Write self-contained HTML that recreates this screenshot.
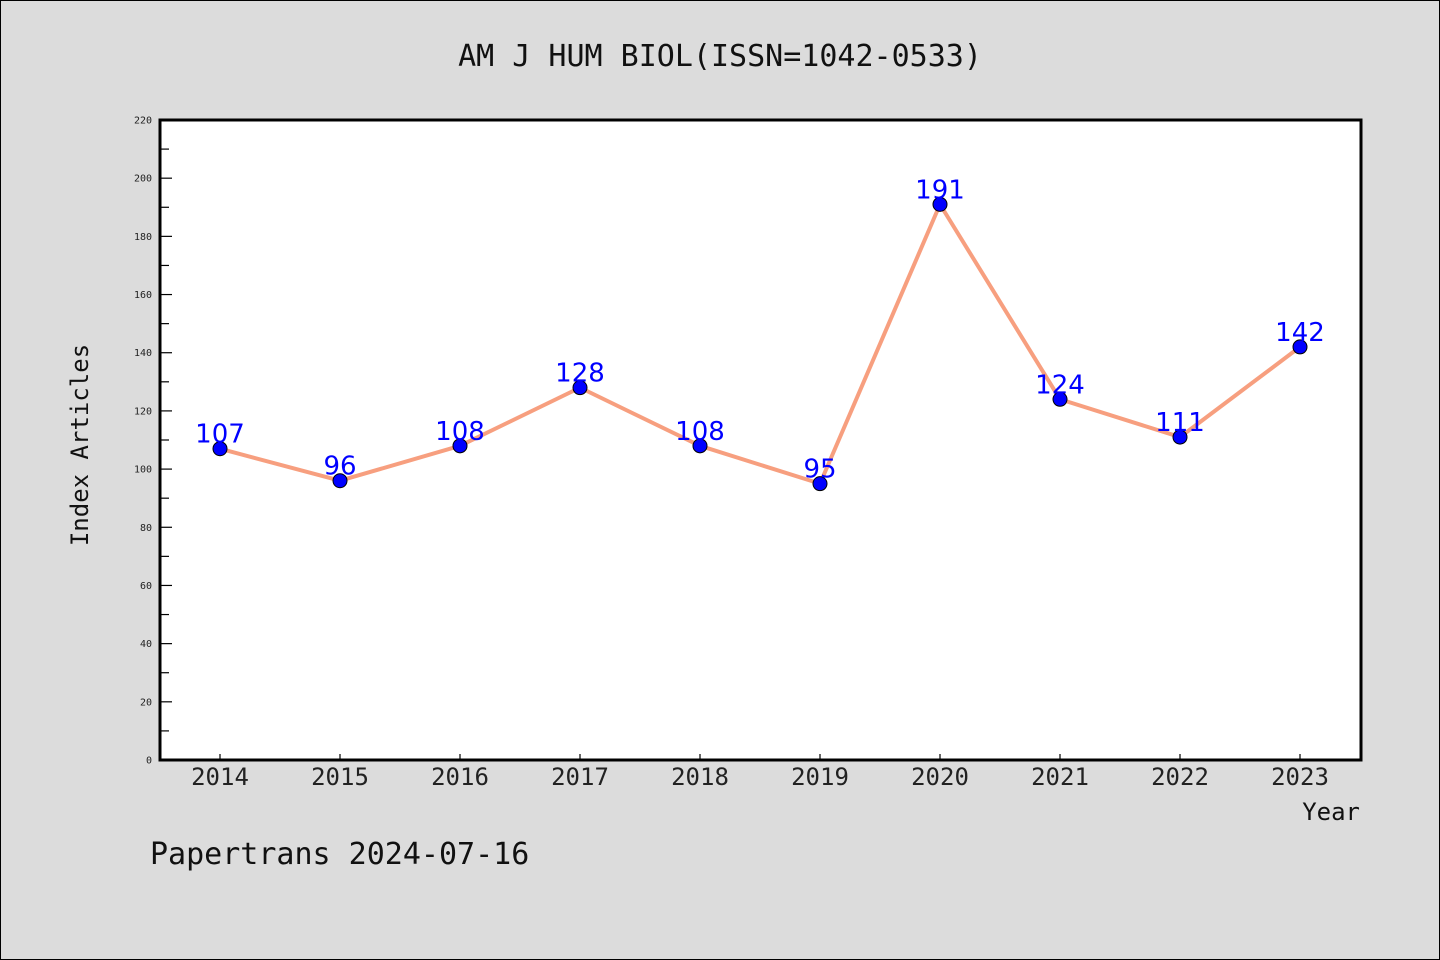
<!DOCTYPE html>
<html><head><meta charset="utf-8"><style>
html,body{margin:0;padding:0;background:#dcdcdc}
svg{display:block}
text{font-family:"DejaVu Sans Mono","Liberation Mono",monospace}
</style></head><body>
<svg id="chart" width="1440" height="960" xmlns="http://www.w3.org/2000/svg">
<rect x="0.5" y="0.5" width="1439" height="959" fill="#dcdcdc" stroke="#000" stroke-width="1"/>
<text x="720" y="66" font-size="30" text-anchor="middle" fill="#111">AM J HUM BIOL(ISSN=1042-0533)</text>
<rect x="160" y="120" width="1201" height="640" fill="#fff"/>
<g id="yaxis"></g>
<g id="xaxis"></g>
<g id="series"></g>
<rect x="160" y="120" width="1201" height="640" fill="none" stroke="#000" stroke-width="3"/>
<text transform="translate(88,445) rotate(-90)" font-size="24" text-anchor="middle" fill="#111">Index Articles</text>
<text x="1360" y="820" font-size="24" text-anchor="end" fill="#111">Year</text>
<text x="150" y="864" font-size="30" fill="#111">Papertrans 2024-07-16</text>
</svg>
<script>
const years = ["2014","2015","2016","2017","2018","2019","2020","2021","2022","2023"];
const values = [107,96,108,128,108,95,191,124,111,142];
const yTicks = [0,20,40,60,80,100,120,140,160,180,200,220];
const NS="http://www.w3.org/2000/svg";
const yMin=0,yMax=220,plotTop=120,plotBottom=760;
function yScale(v){return plotBottom-(v-yMin)/(yMax-yMin)*(plotBottom-plotTop);}
function xScale(i){return 220+i*120;}
function mk(tag,attrs,parent){const e=document.createElementNS(NS,tag);for(const k in attrs)e.setAttribute(k,attrs[k]);parent.appendChild(e);return e;}
const ya=document.getElementById('yaxis'),xa=document.getElementById('xaxis'),sg=document.getElementById('series');
yTicks.forEach((t,i)=>{
  const y=yScale(t);
  const l=mk('line',{x1:160,x2:172,y1:y,y2:y,stroke:'#000','stroke-width':1.2},ya);
  
  
  const tx=mk('text',{x:152,y:y+3.5,'font-size':10,'text-anchor':'end',fill:'#222'},ya);
  tx.textContent=t;
  
  
  if(i<yTicks.length-1){
    const ym=yScale(t+(yTicks[1]-yTicks[0])/2);
    const m=mk('line',{x1:160,x2:169,y1:ym,y2:ym,stroke:'#000','stroke-width':1.2},ya);
    
    
  }
});
years.forEach((yr,i)=>{
  const x=xScale(i);
  const l=mk('line',{x1:x,x2:x,y1:plotBottom,y2:plotBottom-6,stroke:'#000','stroke-width':1.2},xa);
  
  
  const tx=mk('text',{x:x,y:785,'font-size':24,'text-anchor':'middle',fill:'#222'},xa);
  tx.textContent=yr;
  
  
});
const pts=values.map((v,i)=>xScale(i)+','+yScale(v)).join(' ');
const pl=mk('polyline',{points:pts,fill:'none',stroke:'#f79f7f','stroke-width':4,'stroke-linejoin':'round'},sg);


values.forEach((v,i)=>{
  const c=mk('circle',{cx:xScale(i),cy:yScale(v),r:7,fill:'#0000ff',stroke:'#000','stroke-width':1},sg);
  
  
});
values.forEach((v,i)=>{
  const t=mk('text',{x:xScale(i),y:yScale(v)-6,'font-size':26,'text-anchor':'middle',fill:'#0000ff'},sg);
  t.style.fontFamily='"DejaVu Sans","Liberation Sans",sans-serif';
  t.textContent=v;
  
  
});
</script>
</body></html>
